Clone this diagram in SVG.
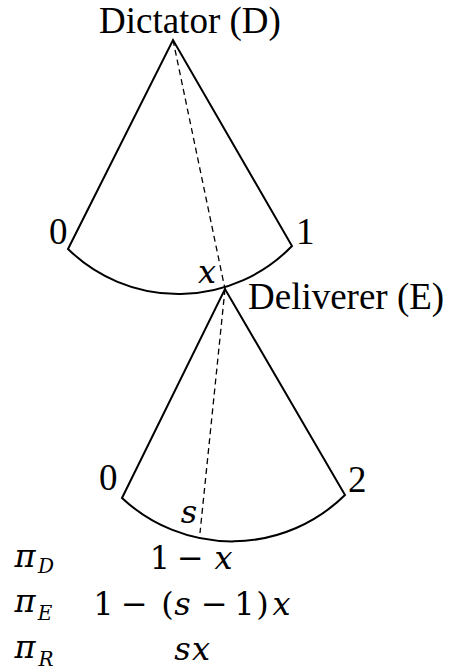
<svg xmlns="http://www.w3.org/2000/svg" width="449" height="671" viewBox="0 0 449 671">
<style>
.edge{fill:none;stroke:#000;stroke-width:2;stroke-linejoin:miter}
.dash{fill:none;stroke:#000;stroke-width:1.3;stroke-dasharray:6 4}
.lbl{font-family:"Liberation Serif","Times New Roman",serif;font-size:37px;fill:#000}
.m{font-family:"DejaVu Serif","Liberation Serif",serif;font-size:32px;fill:#000}
.mi{font-family:"DejaVu Serif","Liberation Serif",serif;font-style:italic;font-size:32px;fill:#000}
.sub{font-family:"DejaVu Serif","Liberation Serif",serif;font-style:italic;font-size:20px;fill:#000}
</style>
<rect width="449" height="671" fill="#fff"/>
<g id="dictator">
<text class="lbl" x="99" y="33">Dictator (D)</text>
<path class="edge" d="M68,249 L173,40 L292,246 A158,158 0 0 1 68,249 Z"/>
<text class="lbl" x="49" y="244">0</text>
<text class="lbl" x="296" y="244">1</text>
<text class="mi" x="207" y="283" text-anchor="middle">x</text>
</g>
<g id="deliverer">
<text class="lbl" x="248" y="309">Deliverer (E)</text>
<path class="edge" d="M122,498 L225,289 L345,495 A161,161 0 0 1 122,498 Z"/>
<text class="lbl" x="99" y="490">0</text>
<text class="lbl" x="348" y="492">2</text>
<text class="mi" x="189" y="523" text-anchor="middle">s</text>
</g>
<g id="connectors">
<line class="dash" x1="173" y1="40" x2="225" y2="289"/>
<line class="dash" x1="225" y1="289" x2="200" y2="533"/>
</g>
<g id="payoffs">
<text class="mi" x="25" y="567" text-anchor="middle">π</text>
<text class="sub" x="46" y="573" text-anchor="middle">D</text>
<text class="mi" x="25" y="612" text-anchor="middle">π</text>
<text class="sub" x="45" y="620" text-anchor="middle">E</text>
<text class="mi" x="25" y="658" text-anchor="middle">π</text>
<text class="sub" x="46" y="666" text-anchor="middle">R</text>
<text class="m" y="569" text-anchor="middle"><tspan x="160">1</tspan><tspan x="190.5">−</tspan><tspan x="223.5" font-style="italic">x</tspan></text>
<text class="m" y="615" text-anchor="middle"><tspan x="103.5">1</tspan><tspan x="134.5">−</tspan><tspan x="167.5">(</tspan><tspan x="182.5" font-style="italic">s</tspan><tspan x="214.5">−</tspan><tspan x="244.5">1</tspan><tspan x="262.5">)</tspan><tspan x="281.5" font-style="italic">x</tspan></text>
<text class="mi" y="660" text-anchor="middle"><tspan x="182.5">s</tspan><tspan x="201">x</tspan></text>
</g>
</svg>
